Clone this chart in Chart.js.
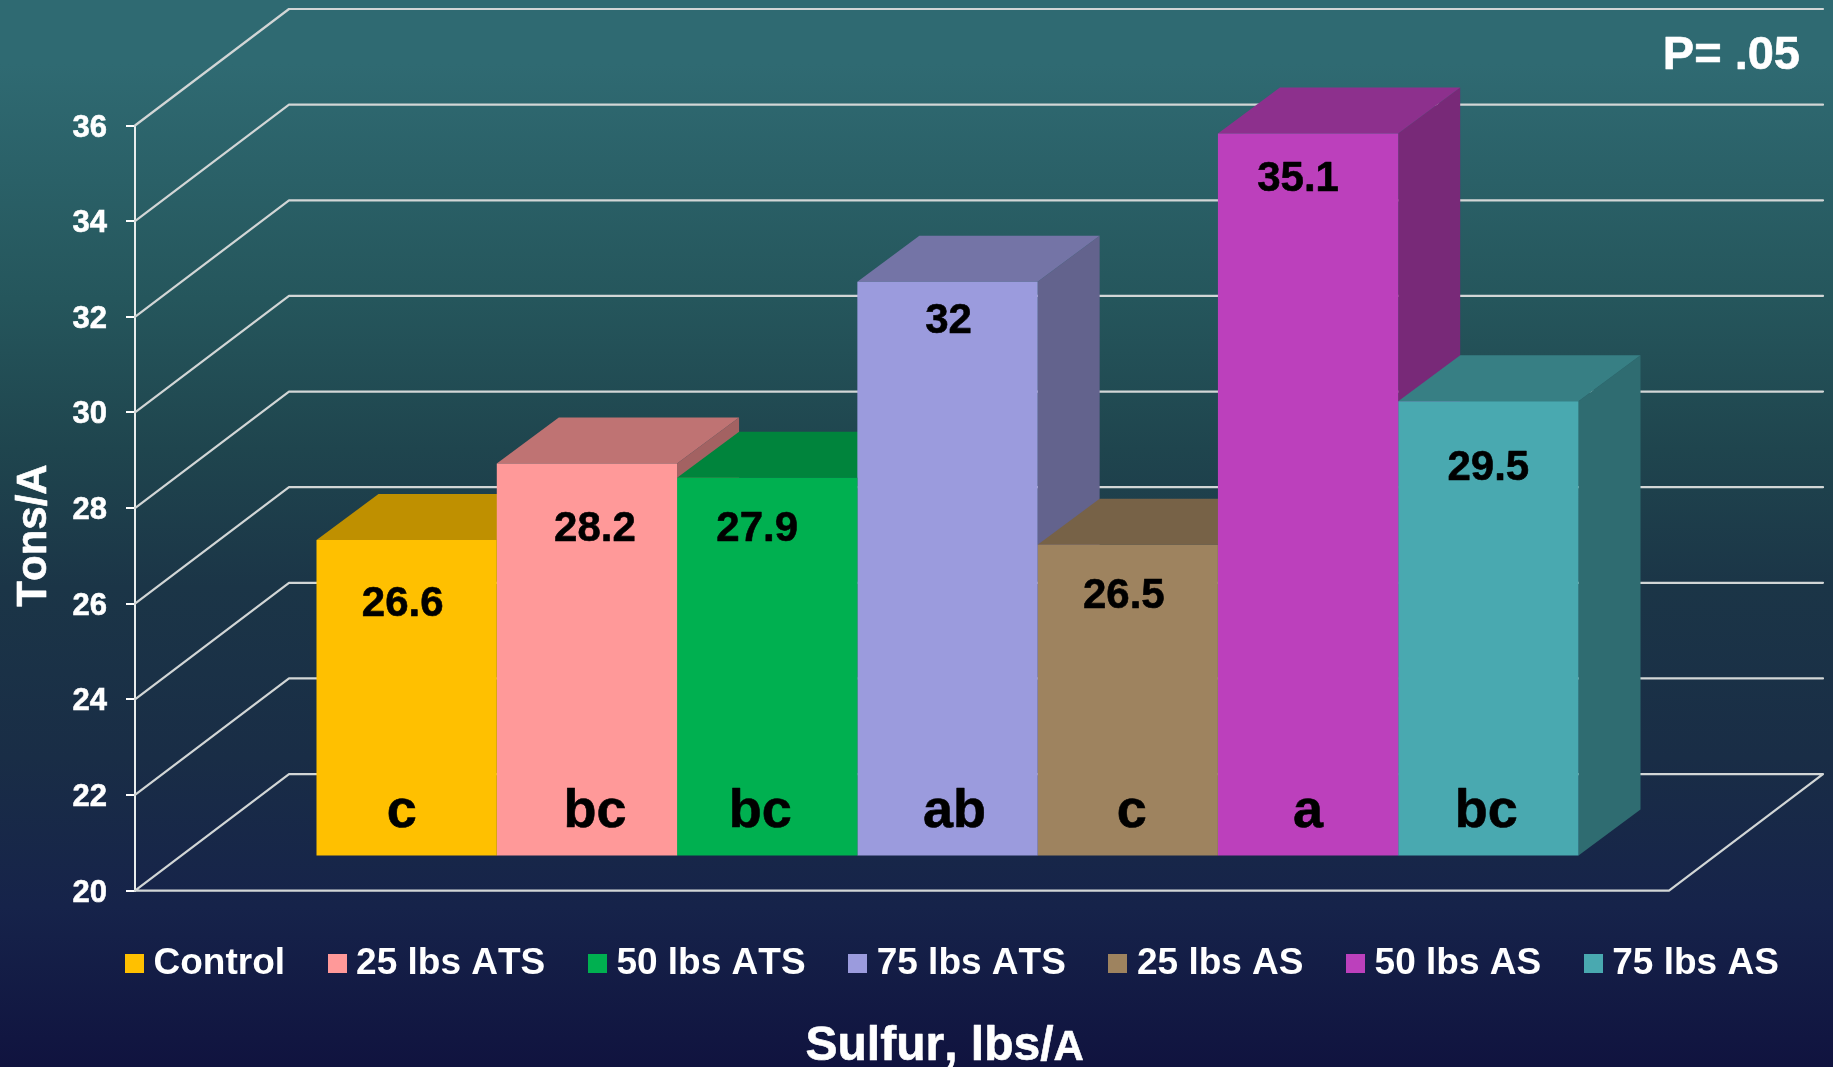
<!DOCTYPE html>
<html>
<head>
<meta charset="utf-8">
<style>html,body{margin:0;padding:0;background:#10133f}canvas{display:block}</style>
<script src="https://cdn.jsdelivr.net/npm/chart.js@4"></script>
</head>
<body>
<canvas id="c" width="1833" height="1067"></canvas>
<script>
// ---- data ----
const categories = ['Control','25 lbs ATS','50 lbs ATS','75 lbs ATS','25 lbs AS','50 lbs AS','75 lbs AS'];
const values = [26.6,28.2,27.9,32,26.5,35.1,29.5];
const valueLabels = ['26.6','28.2','27.9','32','26.5','35.1','29.5'];
const significance = ['c','bc','bc','ab','c','a','bc'];
const colors = ['#FFC000','#FF9999','#00B050','#9B9BDD','#9E835F','#BC40BC','#49A9B0'];
const yTitle = 'Tons/A';
const xTitleMain = 'Sulfur, lbs/';
const xTitleSmall = 'A';
const noteText = 'P= .05';

// ---- layout / style ----
const FONT = '"Liberation Sans", Arial, sans-serif';
const wallDepth = {x:154, y:-116.5};
const barDepth = {x:62, y:-46};
const valueNudge = [[-4,76],[8,78],[-10,63],[1,51],[-4,63],[-10,57],[0,79]];
const letterNudge = [-5,8,-7,7,4,0,-2];
const letterBaselineAboveBase = 29;

function shade(hex,f){
  const n=parseInt(hex.slice(1),16);
  return 'rgb('+[(n>>16)&255,(n>>8)&255,n&255].map(v=>Math.round(v*f)).join(',')+')';
}
function swatch(color){
  const s=document.createElement('canvas');s.width=19;s.height=19;
  const g=s.getContext('2d');g.fillStyle=color;g.fillRect(0,0,19,19);
  return s;
}
function poly(ctx,pts,fill){
  ctx.beginPath();pts.forEach((p,i)=>i?ctx.lineTo(p[0],p[1]):ctx.moveTo(p[0],p[1]));ctx.closePath();
  ctx.fillStyle=fill;ctx.fill();
}
function text(ctx,s,x,y,color){
  ctx.fillStyle=color;ctx.strokeStyle=color;ctx.lineWidth=0.6;ctx.lineJoin='round';
  ctx.fillText(s,x,y);ctx.strokeText(s,x,y);
}

const scene = {
  id:'scene',
  beforeLayout(chart){ chart.ctx.fontKerning='none'; },
  beforeDraw(chart){
    const {ctx,width,height}=chart;
    const g=ctx.createLinearGradient(0,0,0,height);
    g.addColorStop(0,'#2F6A72');
    g.addColorStop(0.06,'#2F6A72');
    g.addColorStop(0.28,'#25565C');
    g.addColorStop(0.42,'#1F454E');
    g.addColorStop(0.55,'#1B3547');
    g.addColorStop(0.71,'#192D46');
    g.addColorStop(0.85,'#16234A');
    g.addColorStop(1,'#10133F');
    ctx.save();ctx.fillStyle=g;ctx.fillRect(0,0,width,height);ctx.restore();
  },
  afterLayout(chart){
    const L=chart.legend, pad=L.options.labels.padding;
    const w=L.width, h=L.height;
    L.left=134-pad; L.right=L.left+w; L.top=944.8-pad; L.bottom=L.top+h;
  },
  beforeDatasetsDraw(chart){
    const {ctx,chartArea}=chart, y=chart.scales.y;
    const x0=chartArea.left;
    const rightBack=1823, rightFront=rightBack-wallDepth.x;
    ctx.save();
    ctx.lineCap='round';ctx.lineJoin='round';
    y.ticks.forEach(t=>{
      const py=y.getPixelForValue(t.value);
      ctx.beginPath();
      ctx.moveTo(x0,py);
      ctx.lineTo(x0+wallDepth.x,py+wallDepth.y);
      ctx.lineTo(rightBack,py+wallDepth.y);
      if(t.value===y.min){
        ctx.lineTo(rightFront,py);
        ctx.lineTo(x0,py);
      }
      ctx.strokeStyle='#D2D6D6';ctx.lineWidth=2.2;ctx.stroke();
    });
    ctx.restore();
    // side and top faces, left to right
    categories.forEach((_,i)=>{
      const b=chart.getDatasetMeta(i).data[0];
      const l=b.x-b.width/2, r=b.x+b.width/2, dx=barDepth.x, dy=barDepth.y;
      poly(ctx,[[r,b.y],[r+dx,b.y+dy],[r+dx,b.base+dy],[r,b.base]],shade(colors[i],0.64));
      poly(ctx,[[l,b.y],[l+dx,b.y+dy],[r+dx,b.y+dy],[r,b.y]],shade(colors[i],0.75));
    });
  },
  afterDatasetsDraw(chart){
    const {ctx}=chart;
    ctx.save();
    ctx.textAlign='center';ctx.textBaseline='alphabetic';
    categories.forEach((_,i)=>{
      const b=chart.getDatasetMeta(i).data[0];
      ctx.font='bold 42px '+FONT;
      text(ctx,valueLabels[i],b.x+valueNudge[i][0],b.y+valueNudge[i][1],'#000');
      ctx.font='bold 54px '+FONT;
      text(ctx,significance[i],b.x+letterNudge[i],b.base-letterBaselineAboveBase,'#000');
    });
    ctx.restore();
  },
  afterDraw(chart){
    const {ctx}=chart;
    ctx.save();
    ctx.textBaseline='alphabetic';
    ctx.textAlign='right';
    ctx.font='bold 47px '+FONT;
    text(ctx,noteText,1800,69,'#fff');
    // x title
    ctx.textAlign='left';
    ctx.font='bold 48px '+FONT;
    text(ctx,xTitleMain,805.5,1060,'#fff');
    const w=ctx.measureText(xTitleMain).width;
    ctx.font='bold 42px '+FONT;
    text(ctx,xTitleSmall,805.5+w,1060,'#fff');
    // y title
    ctx.translate(46,535.5);ctx.rotate(-Math.PI/2);
    ctx.textAlign='center';
    ctx.font='bold 42px '+FONT;
    text(ctx,yTitle,0,0,'#fff');
    ctx.restore();
  }
};

new Chart(document.getElementById('c'),{
  type:'bar',
  data:{
    labels:[''],
    datasets:categories.map((name,i)=>({
      label:name,
      data:[values[i]],
      yAxisID:'yBar',
      base:20,
      backgroundColor:colors[i],
      borderWidth:0,
      categoryPercentage:1262/1625,
      barPercentage:1
    }))
  },
  plugins:[scene],
  options:{
    responsive:false,
    animation:false,
    events:[],
    layout:{padding:{left:0,right:73,top:125.5,bottom:0}},
    plugins:{
      tooltip:{enabled:false},
      title:{display:false},
      legend:{
        display:true,
        position:'bottom',
        align:'start',
        labels:{
          usePointStyle:true,
          boxHeight:1,
          boxWidth:1,
          padding:51.6,
          color:'#fff',
          font:{family:FONT,size:37,weight:'bold'},
          generateLabels:()=>categories.map((t,i)=>({
            text:t,fontColor:'#fff',fillStyle:colors[i],strokeStyle:colors[i],lineWidth:0,
            pointStyle:swatch(colors[i]),hidden:false,datasetIndex:i
          }))
        }
      }
    },
    scales:{
      x:{
        grid:{display:false},
        border:{display:false},
        ticks:{display:false},
        afterFit(s){s.height=77.8;}
      },
      y:{
        position:'left',
        min:20,max:36,
        ticks:{stepSize:2,color:'#fff',padding:19,labelOffset:2.5,textStrokeColor:'#fff',textStrokeWidth:0.6,font:{family:FONT,size:31,weight:'bold'}},
        grid:{drawOnChartArea:false,drawTicks:true,tickLength:9,color:'#fff',lineWidth:2},
        border:{display:true,color:'#E8ECEC',width:2},
        afterFit(s){s.width=135;}
      },
      yBar:{
        display:false,
        min:19.268,max:35.268
      }
    }
  }
});
</script>
</body>
</html>
